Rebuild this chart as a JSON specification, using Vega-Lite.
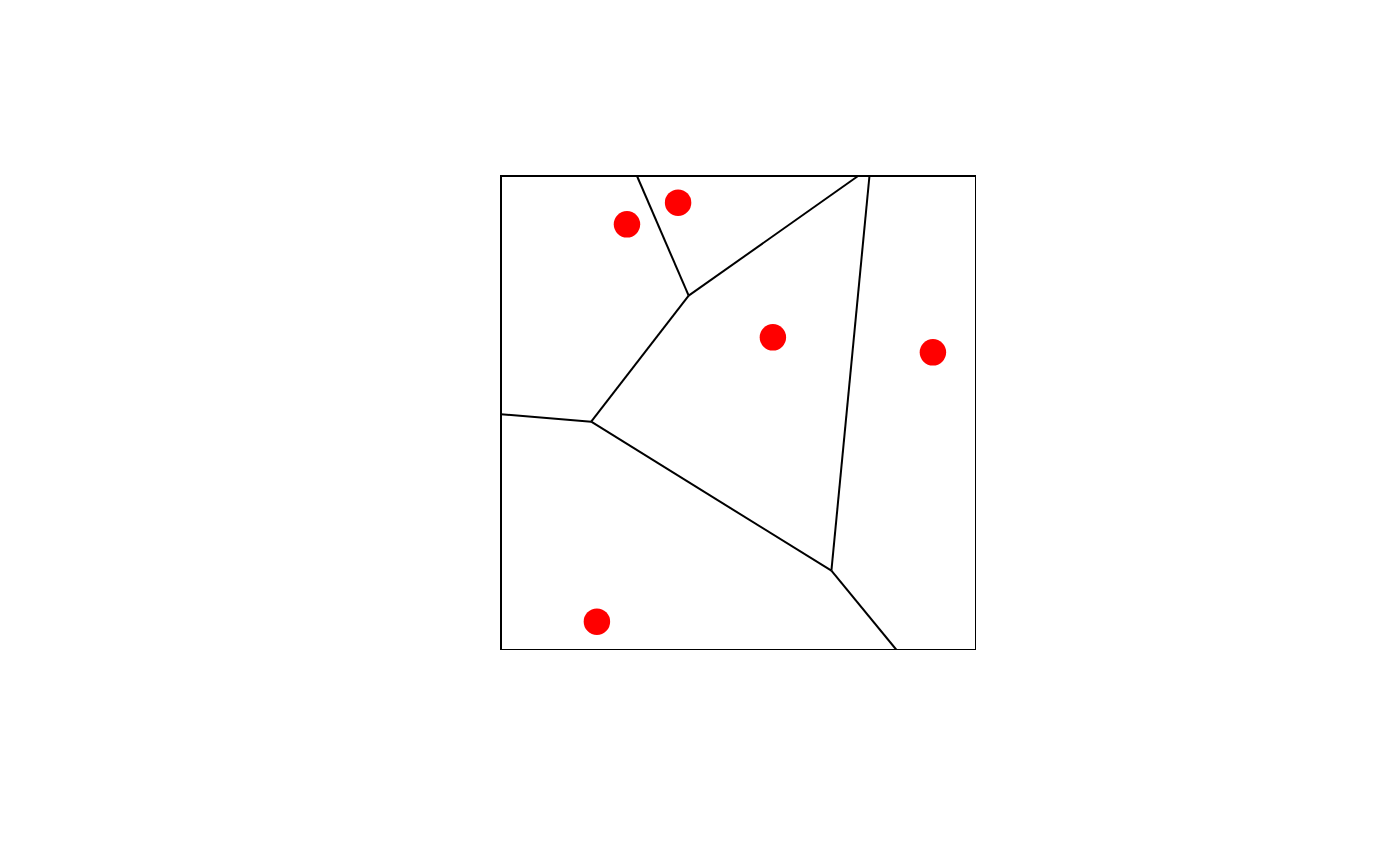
{
  "$schema": "https://vega.github.io/schema/vega-lite/v6.json",
  "autosize": "none",
  "width": 475,
  "height": 474,
  "padding": {"left": 501, "top": 176, "right": 0, "bottom": 0},
  "background": "white",
  "config": {"view": {"stroke": "black", "strokeWidth": 2}},
  "datasets": {
    "edges": [
      {"x": 0.2863, "y": 1.0, "x2": 0.3951, "y2": 0.7475},
      {"x": 0.3951, "y": 0.7475, "x2": 0.7517, "y2": 1.0},
      {"x": 0.3951, "y": 0.7475, "x2": 0.1899, "y2": 0.4816},
      {"x": 0.1899, "y": 0.4816, "x2": 0.0, "y2": 0.4973},
      {"x": 0.1899, "y": 0.4816, "x2": 0.6956, "y2": 0.1673},
      {"x": 0.7757, "y": 1.0, "x2": 0.6956, "y2": 0.1673},
      {"x": 0.6956, "y": 0.1673, "x2": 0.8327, "y2": 0.0}
    ],
    "sites": [
      {"x": 0.2652, "y": 0.8981},
      {"x": 0.3728, "y": 0.9437},
      {"x": 0.5724, "y": 0.6597},
      {"x": 0.9093, "y": 0.6281},
      {"x": 0.2019, "y": 0.0597}
    ]
  },
  "layer": [
    {
      "data": {"name": "edges"},
      "mark": {"type": "rule", "color": "black", "strokeWidth": 2},
      "encoding": {
        "x": {"field": "x", "type": "quantitative", "scale": {"domain": [0, 1], "nice": false, "zero": false}, "axis": null},
        "y": {"field": "y", "type": "quantitative", "scale": {"domain": [0, 1], "nice": false, "zero": false}, "axis": null},
        "x2": {"field": "x2"},
        "y2": {"field": "y2"}
      }
    },
    {
      "data": {"name": "sites"},
      "mark": {"type": "point", "filled": true, "shape": "circle", "color": "#ff0000", "opacity": 1, "size": 700},
      "encoding": {
        "x": {"field": "x", "type": "quantitative", "scale": {"domain": [0, 1], "nice": false, "zero": false}, "axis": null},
        "y": {"field": "y", "type": "quantitative", "scale": {"domain": [0, 1], "nice": false, "zero": false}, "axis": null}
      }
    }
  ]
}
